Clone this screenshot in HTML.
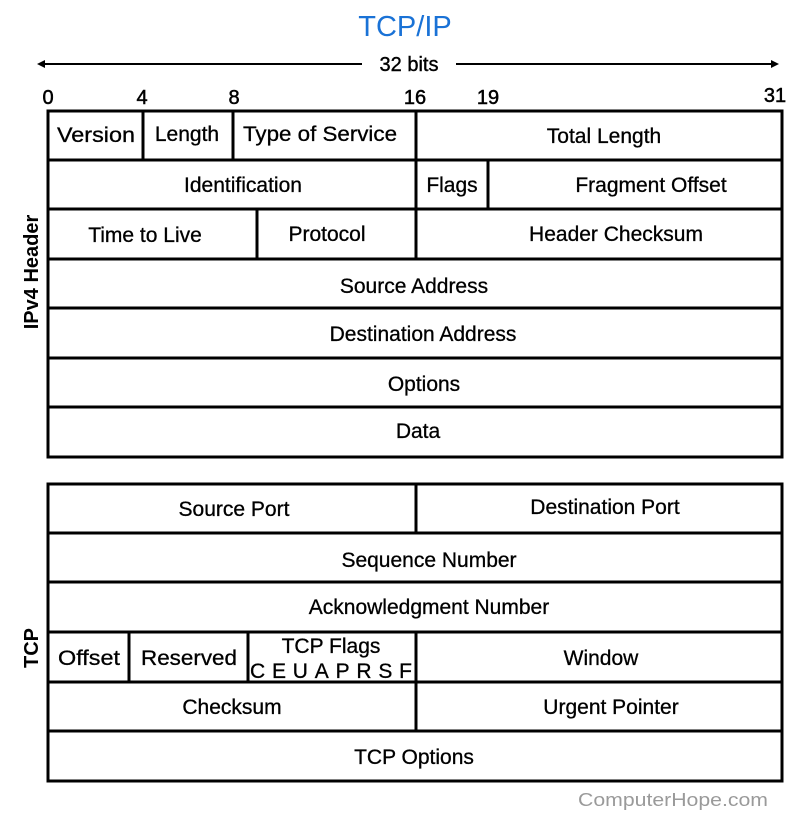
<!DOCTYPE html>
<html><head><meta charset="utf-8"><style>
html,body{margin:0;padding:0;background:#fff;}
svg{display:block;}
text{font-family:"Liberation Sans",Arial,sans-serif;}
</style></head><body>
<svg width="800" height="821" viewBox="0 0 800 821" xmlns="http://www.w3.org/2000/svg">
<text x="405" y="36" font-size="29" fill="#1a72d6" text-anchor="middle">TCP/IP</text>
<line x1="42" y1="64" x2="362" y2="64" stroke="#000" stroke-width="2"/>
<line x1="456" y1="64" x2="774" y2="64" stroke="#000" stroke-width="2"/>
<polygon points="37,64 45,60 45,68" fill="#000"/>
<polygon points="779,64 771,60 771,68" fill="#000"/>
<text x="409" y="71" font-size="20" text-anchor="middle" stroke="#000" stroke-width="0.4">32 bits</text>
<g font-size="20" text-anchor="middle" stroke="#000" stroke-width="0.5">
<text x="48" y="104">0</text><text x="142" y="104">4</text><text x="234" y="104">8</text>
<text x="415" y="104">16</text><text x="488" y="104">19</text><text x="775" y="102">31</text>
</g>
<g stroke="#000" stroke-width="3" fill="none">
<rect x="48" y="111" width="734" height="346"/>
<line x1="48" y1="160" x2="782" y2="160"/>
<line x1="48" y1="209" x2="782" y2="209"/>
<line x1="48" y1="259" x2="782" y2="259"/>
<line x1="48" y1="308" x2="782" y2="308"/>
<line x1="48" y1="358" x2="782" y2="358"/>
<line x1="48" y1="407" x2="782" y2="407"/>
<line x1="143" y1="111" x2="143" y2="160"/>
<line x1="233" y1="111" x2="233" y2="160"/>
<line x1="416" y1="111" x2="416" y2="259"/>
<line x1="488" y1="160" x2="488" y2="209"/>
<line x1="257" y1="209" x2="257" y2="259"/>
<rect x="48" y="484" width="734" height="297"/>
<line x1="48" y1="533" x2="782" y2="533"/>
<line x1="48" y1="582" x2="782" y2="582"/>
<line x1="48" y1="632" x2="782" y2="632"/>
<line x1="48" y1="682" x2="782" y2="682"/>
<line x1="48" y1="731" x2="782" y2="731"/>
<line x1="416" y1="484" x2="416" y2="533"/>
<line x1="129" y1="632" x2="129" y2="682"/>
<line x1="248" y1="632" x2="248" y2="682"/>
<line x1="416" y1="632" x2="416" y2="731"/>
</g>
<g font-size="21" text-anchor="middle" fill="#000" stroke="#000" stroke-width="0.3">
<text x="96" y="142" textLength="78" lengthAdjust="spacingAndGlyphs">Version</text>
<text x="187" y="141">Length</text>
<text x="320" y="141" textLength="154" lengthAdjust="spacingAndGlyphs">Type of Service</text>
<text x="604" y="143">Total Length</text>
<text x="243" y="192">Identification</text>
<text x="452" y="192">Flags</text>
<text x="651" y="192">Fragment Offset</text>
<text x="145" y="242">Time to Live</text>
<text x="327" y="241">Protocol</text>
<text x="616" y="241">Header Checksum</text>
<text x="414" y="293">Source Address</text>
<text x="423" y="341">Destination Address</text>
<text x="424" y="391">Options</text>
<text x="418" y="438">Data</text>
<text x="234" y="516">Source Port</text>
<text x="605" y="514">Destination Port</text>
<text x="429" y="567">Sequence Number</text>
<text x="429" y="614">Acknowledgment Number</text>
<text x="89" y="665" textLength="62" lengthAdjust="spacingAndGlyphs">Offset</text>
<text x="189" y="665" textLength="96" lengthAdjust="spacingAndGlyphs">Reserved</text>
<text x="331" y="653">TCP Flags</text>
<text x="331" y="678" textLength="162" lengthAdjust="spacing">CEUAPRSF</text>
<text x="601" y="665">Window</text>
<text x="232" y="714">Checksum</text>
<text x="611" y="714">Urgent Pointer</text>
<text x="414" y="764">TCP Options</text>
</g>
<text transform="translate(38,272) rotate(-90)" font-size="20" font-weight="bold" text-anchor="middle">IPv4 Header</text>
<text transform="translate(38,648) rotate(-90)" font-size="20" font-weight="bold" text-anchor="middle">TCP</text>
<text x="673" y="806" font-size="18" fill="#9a9a9a" text-anchor="middle" textLength="190" lengthAdjust="spacingAndGlyphs" font-family="DejaVu Sans, sans-serif">ComputerHope.com</text>
</svg>
</body></html>
